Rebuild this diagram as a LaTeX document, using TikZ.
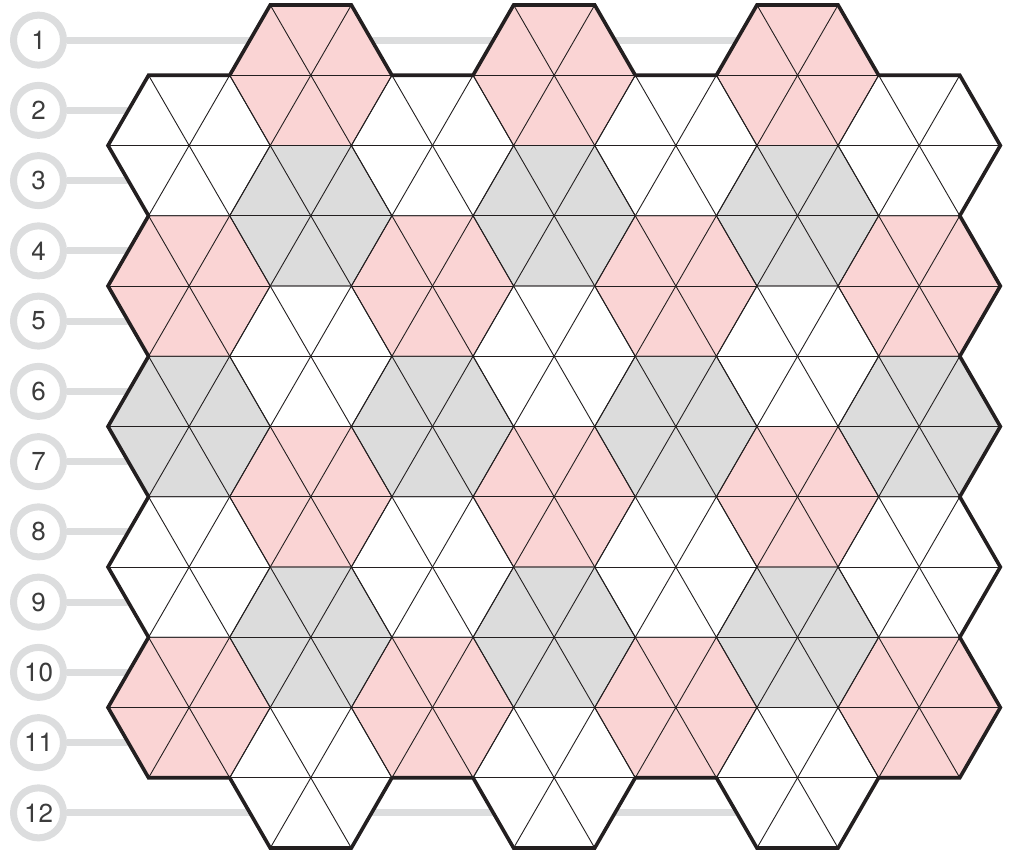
\documentclass[tikz,border=0pt]{standalone}
\usepackage{fontspec}
\setmainfont{TeX Gyre Heros}
\definecolor{hexpink}{HTML}{FAD4D4}
\definecolor{hexgray}{HTML}{DCDCDC}
\definecolor{ink}{HTML}{231F20}
\definecolor{guide}{HTML}{DCDDDE}
\definecolor{labeltext}{HTML}{3C3C3C}
\newcommand\hexpath[2]{(#1-2,#2) -- (#1-1,#2-1) -- (#1+1,#2-1) -- (#1+2,#2) -- (#1+1,#2+1) -- (#1-1,#2+1) -- cycle}
\begin{document}
\begin{tikzpicture}[
  rowlabel/.style={circle, draw=guide, line width=7pt, fill=white, minimum size=50pt, inner sep=0pt, text=labeltext, font=\fontsize{26}{26}\selectfont},
  guideline/.style={draw=guide, line width=7pt},
  gridline/.style={draw=ink, line width=0.9pt},
  outline/.style={draw=ink, line width=3.6pt, line join=miter}
]
\useasboundingbox (0pt,0pt) rectangle (1009pt,-852pt);
\begin{scope}[shift={(108pt,-5pt)}, x=40.56pt, y=-70.25pt]
  % row labels and guide lines
  \foreach \r in {1,...,12} {
    \node[rowlabel] (L\r) at (-1.7135,\r-0.5) {\r};
  }
  \foreach \r in {1,...,12} {
    \coordinate (G\r) at (17,\r-0.5);
    \draw[guideline] (L\r.east) -- (G\r);
  }
  % fills
  \foreach \j in {0,2,4,6} {
    \pgfmathtruncatemacro\m{3*\j+2}
    \foreach \k/\c in {2/white,4/hexpink,6/hexgray,8/white,10/hexpink} {
      \fill[\c] \hexpath{\m}{\k};
    }
  }
  \foreach \j in {1,3,5} {
    \pgfmathtruncatemacro\m{3*\j+2}
    \foreach \k/\c in {1/hexpink,3/hexgray,5/white,7/hexpink,9/hexgray,11/white} {
      \fill[\c] \hexpath{\m}{\k};
    }
  }
  % grid lines
  \foreach \j in {0,...,6} {
    \pgfmathtruncatemacro\m{3*\j+2}
    \pgfmathtruncatemacro\kstart{isodd(\j) ? 1 : 2}
    \pgfmathtruncatemacro\knext{\kstart+2}
    \pgfmathtruncatemacro\kend{isodd(\j) ? 11 : 10}
    \foreach \k in {\kstart,\knext,...,\kend} {
      \draw[gridline] \hexpath{\m}{\k};
      \draw[gridline] (\m-2,\k) -- (\m+2,\k);
      \draw[gridline] (\m-1,\k-1) -- (\m+1,\k+1);
      \draw[gridline] (\m+1,\k-1) -- (\m-1,\k+1);
    }
  }
  % outer boundary
  \draw[outline] (1,1) -- (3,1) -- (4,0) -- (6,0) -- (7,1) -- (9,1) -- (10,0) -- (12,0) -- (13,1) -- (15,1) -- (16,0) -- (18,0) -- (19,1) -- (21,1)
    -- (22,2) -- (21,3) -- (22,4) -- (21,5) -- (22,6) -- (21,7) -- (22,8) -- (21,9) -- (22,10) -- (21,11)
    -- (19,11) -- (18,12) -- (16,12) -- (15,11) -- (13,11) -- (12,12) -- (10,12) -- (9,11) -- (7,11) -- (6,12) -- (4,12) -- (3,11) -- (1,11)
    -- (0,10) -- (1,9) -- (0,8) -- (1,7) -- (0,6) -- (1,5) -- (0,4) -- (1,3) -- (0,2) -- cycle;
\end{scope}
\end{tikzpicture}
\end{document}
